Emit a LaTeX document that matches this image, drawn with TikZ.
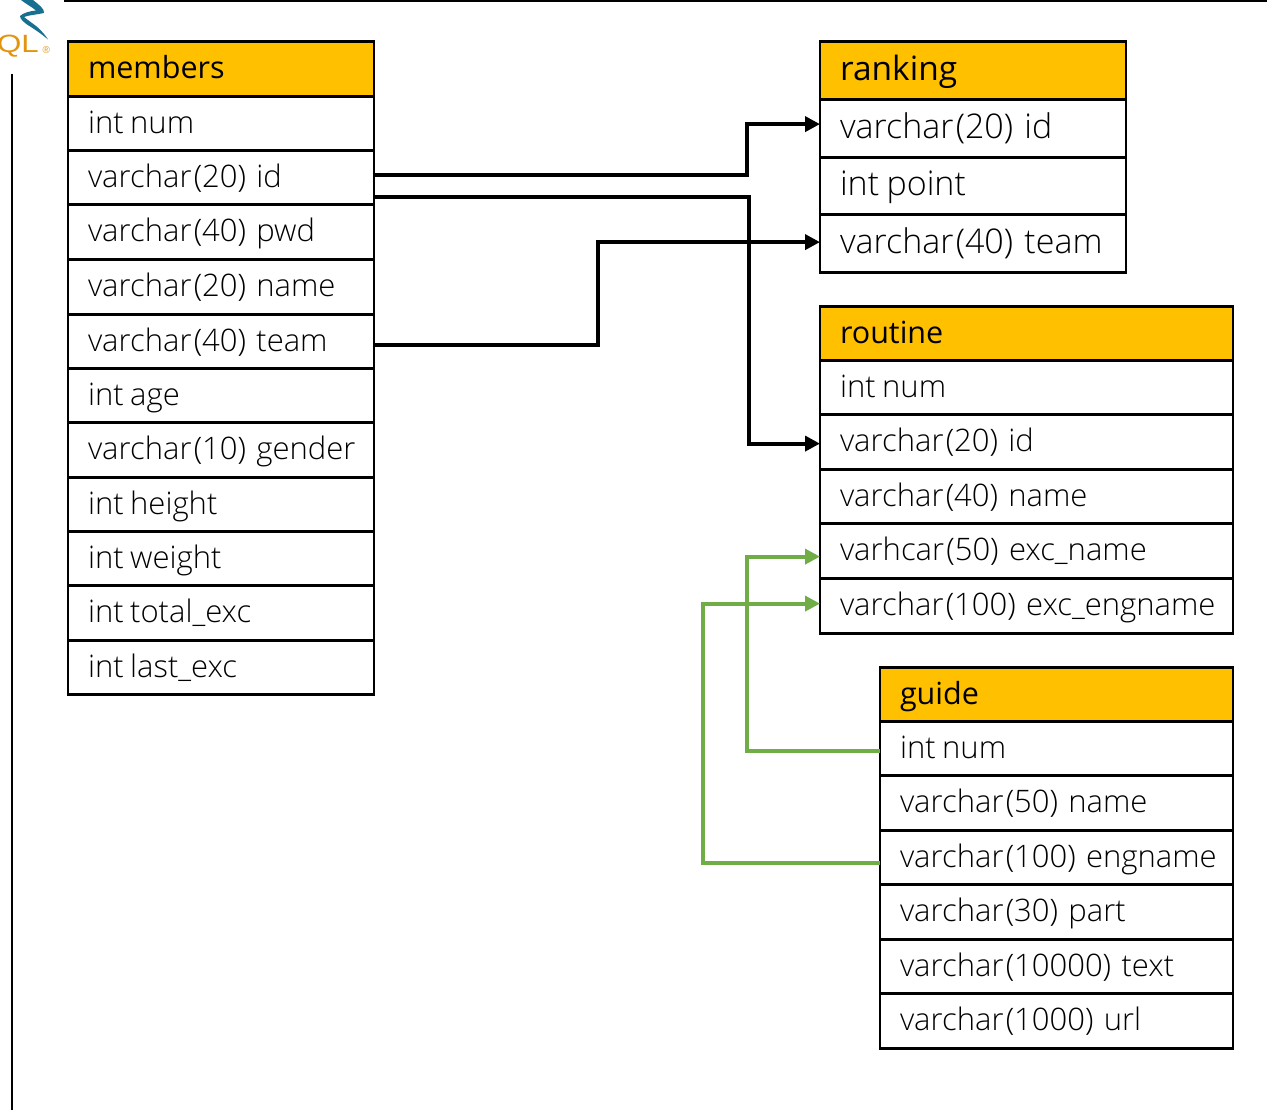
\documentclass[tikz,border=0pt]{standalone}
\usepackage{fontspec}
\setmainfont{Open Sans Light}
\newfontfamily\hdrfont{Open Sans}
\newfontfamily\logofont{Liberation Sans}
\usetikzlibrary{arrows.meta,calc}
\definecolor{hdr}{HTML}{FFC000}
\definecolor{grn}{HTML}{70AD47}
\definecolor{logoorange}{HTML}{E3940F}
\definecolor{logoblue}{HTML}{17708F}
\newcommand{\vch}[1]{varchar\kern2.2pt(#1)}
\newcommand{\intw}{int\hspace{-3.8pt} }
\tikzset{
  x=1pt,y=-1pt,
  cell/.style={draw=black,line width=2.8pt,anchor=north west,inner xsep=20pt,inner ysep=0pt,outer sep=0pt,align=left,text height=24.75pt,text depth=5.25pt,font=\fontsize{31}{33}\selectfont,text=black},
  hcell/.style={cell,fill=hdr,font=\hdrfont\fontsize{30.5}{33}\selectfont},
  bigcell/.style={cell,font=\fontsize{34}{36}\selectfont},
  bighcell/.style={hcell,font=\hdrfont\fontsize{33.5}{36}\selectfont},
  link/.style={line width=4.1pt,black,-{Triangle[length=15pt,width=15pt]}},
  glink/.style={line width=4.1pt,grn,-{Triangle[length=15pt,width=15pt]}}
}
% #1 name, #2 style, #3 x, #4 top, #5 width, #6 height, #7 text
\newcommand{\tcell}[7]{\node[#2,minimum width=#5pt,minimum height=#6pt,text width={#5pt-40pt}] (#1) at (#3,#4) {\mbox{#7}};}
\begin{document}
\begin{tikzpicture}
\useasboundingbox (0,0) rectangle (1267,1110);
\begin{scope}[yshift=-0.6pt]
% members
\tcell{m0}{hcell}{68}{41}{306}{55}{members}
\tcell{m1}{cell}{68}{96}{306}{54}{\intw num}
\tcell{m2}{cell}{68}{150}{306}{54}{\vch{20} id}
\tcell{m3}{cell}{68}{204}{306}{55}{\vch{40} pwd}
\tcell{m4}{cell}{68}{259}{306}{55}{\vch{20} name}
\tcell{m5}{cell}{68}{314}{306}{54}{\vch{40} team}
\tcell{m6}{cell}{68}{368}{306}{54}{\intw age}
\tcell{m7}{cell}{68}{422}{306}{55}{\vch{10} gender}
\tcell{m8}{cell}{68}{477}{306}{54}{\intw height}
\tcell{m9}{cell}{68}{531}{306}{54}{\intw weight}
\tcell{m10}{cell}{68}{585}{306}{55}{\intw total\_exc}
\tcell{m11}{cell}{68}{640}{306}{54}{\intw last\_exc}
% ranking
\tcell{k0}{bighcell}{820}{41}{306}{58}{ranking}
\tcell{k1}{bigcell}{820}{99}{306}{58}{\vch{20} id}
\tcell{k2}{bigcell}{820}{157}{306}{57}{\intw point}
\tcell{k3}{bigcell}{820}{214}{306}{58}{\vch{40} team}
% routine
\tcell{r0}{hcell}{820}{306}{413}{54}{routine}
\tcell{r1}{cell}{820}{360}{413}{54}{\intw num}
\tcell{r2}{cell}{820}{414}{413}{55}{\vch{20} id}
\tcell{r3}{cell}{820}{469}{413}{54}{\vch{40} name}
\tcell{r4}{cell}{820}{523}{413}{55}{varhcar\kern2.2pt(50) exc\_name}
\tcell{r5}{cell}{820}{578}{413}{55}{\vch{100} exc\_engname}
% guide
\tcell{g0}{hcell}{880}{667}{353}{54}{guide}
\tcell{g1}{cell}{880}{721}{353}{54}{\intw num}
\tcell{g2}{cell}{880}{775}{353}{55}{\vch{50} name}
\tcell{g3}{cell}{880}{830}{353}{54}{\vch{100} engname}
\tcell{g4}{cell}{880}{884}{353}{55}{\vch{30} part}
\tcell{g5}{cell}{880}{939}{353}{54}{\vch{10000} text}
\tcell{g6}{cell}{880}{993}{353}{55}{\vch{1000} url}
% connectors
\draw[link] ([yshift=3pt]m2.east) -- (747,174) -- (747,123.5) -- ([yshift=4.5pt]k1.west);
\draw[link] ([yshift=-19pt]m2.east) -- (749,196) -- (749,443) -- ([yshift=-1.5pt]r2.west);
\draw[link] ([yshift=-3pt]m5.east) -- (598,344) -- (598,241.5) -- ([yshift=1.5pt]k3.west);
\draw[glink] ([yshift=-2pt]g1.west) -- (747,750) -- (747,556) -- ([yshift=-5.5pt]r4.west);
\draw[glink] ([yshift=-5pt]g3.west) -- (703,862) -- (703,603) -- ([yshift=2.5pt]r5.west);
\end{scope}
% page furniture
\draw[line width=2.4pt] (64,0.8) -- (1267,0.8);
\draw[line width=2.2pt] (12,74) -- (12,1110);
% logo
\fill[logoblue] (21,0) .. controls (26,4) and (32,7) .. (36,10.5) .. controls (30,11) and (23,13) .. (20,16) .. controls (20,19) and (24,23) .. (31,27) .. controls (37,31) and (43,35) .. (48,39.5) .. controls (44,33) and (38,27) .. (32,23) .. controls (28,20) and (25,18) .. (24,17) .. controls (29,15) and (38,14.5) .. (44,13) .. controls (45,9) and (38,4) .. (33,0) -- cycle;
\node[font=\logofont\fontsize{25}{25}\selectfont,text=logoorange,anchor=base east,inner sep=0pt,xscale=1.25] (logoql) at (39,53) {QL};
\node[font=\logofont\fontsize{10}{10}\selectfont,text=logoorange,anchor=base west,inner sep=0pt] (logoreg) at (42.5,53.5) {®};
\end{tikzpicture}
\end{document}
